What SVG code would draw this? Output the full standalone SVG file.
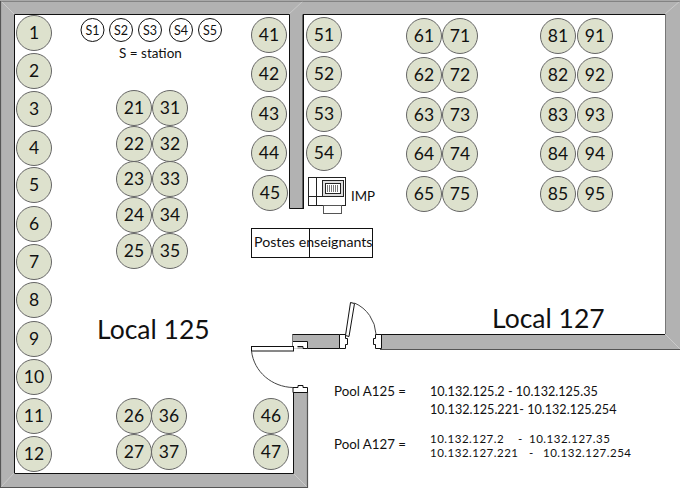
<svg xmlns="http://www.w3.org/2000/svg" width="680" height="488" viewBox="0 0 680 488">
<style>
.w{fill:#b2b2b2;stroke:none}
.e{fill:none;stroke:#111;stroke-width:1}
.o{fill:none;stroke:#555;stroke-width:1.200}
.j{fill:#fff;stroke:#111;stroke-width:1}
.t{fill:none;stroke:#444;stroke-width:1}
.n circle{fill:#dde1cd;stroke:#666;stroke-width:1}
.n text{font-family:Lato,"Liberation Sans",sans-serif;font-size:17.500px;fill:#111;text-anchor:middle}
.s circle{fill:#fff;stroke:#111;stroke-width:1}
.s text{font-family:Lato,"Liberation Sans",sans-serif;font-size:12.500px;fill:#111;text-anchor:middle}
.l{font-family:Lato,"Liberation Sans",sans-serif;fill:#111}
.f{font-size:12.600px}
.p{font-size:11.500px;letter-spacing:.5px}
</style>
<g id="walls">
<path class="w" d="M1 1 H680 V349 H381 V334 H665 V14 H303 V209 H289 V14 H14 V473 H293 V392 H307 V487 H1 Z"/>
<path class="w" d="M292 334 H340 V349 H292 Z"/>
<path d="M1 1 L14 14 M1 487 L14 473 M665 14 L680 1 M665 334 L680 349 M293 473 L307 487 M289 14 L303 1" stroke="#c9c9c9" fill="none"/>
<path class="o" d="M0.500 488 V1 H680 M0.500 487.500 H307.500 V392 M380 349.500 H680"/>
<path class="e" d="M14.500 473 V14.500 H289.500 V208.500 H303 V14.500 H665 M303.500 14 V209 M14.500 473.500 H293.500 V392 M381 334.500 H665"/>
<path d="M665.500 14 V334" stroke="#777" fill="none"/>
<path class="e" d="M292.500 334.500 H339.500 V348.500 H307.500"/>
<path d="M292.500 335 V349" stroke="#777" fill="none"/>
<path class="j" d="M381.500 334.500 H375.500 V338.500 H373.500 V344.500 H375.500 V348.500 H381.500 Z"/>
<path class="j" d="M339.500 334.500 H345.500 V338.500 H347.500 V344.500 H345.500 V348.500 H339.500 Z"/>
<path d="M293 341.500 H307.500 V348.500 H302.500 V346.500 H297.500 V348.500 H293 Z" fill="#fff"/>
<path class="e" d="M293 341.500 H307.500 V348.500 H303 V346.500 H297.500 M293 392.500 H307.500 V387.500 H303 V385.500 H298 V387.500 H293 V392.500"/>
<rect class="j" x="251.500" y="346.500" width="42" height="4.500"/>
<path class="j" d="M345.500 335.500 L350.500 302.500 L354.500 303.500 L349 336.500 Z"/>
<path class="t" d="M354.500 303 A36 36 0 0 1 376 334 M251.500 351 C254 372 272 387 293 387.500"/>
</g>
<g id="connectors"></g>
<g id="station-nodes" class="s">
<g id="S1"><circle cx="92.500" cy="30" r="11.500"/><text x="92.500" y="34.500">S1</text></g>
<g id="S2"><circle cx="121" cy="30" r="11.500"/><text x="121" y="34.500">S2</text></g>
<g id="S3"><circle cx="150" cy="30" r="11.500"/><text x="150" y="34.500">S3</text></g>
<g id="S4"><circle cx="181" cy="30" r="11.500"/><text x="181" y="34.500">S4</text></g>
<g id="S5"><circle cx="210" cy="30" r="11.500"/><text x="210" y="34.500">S5</text></g>
</g>
<g id="seats" class="n">
<g id="n1"><circle cx="34" cy="33" r="17.500"/><text x="34" y="39">1</text></g>
<g id="n2"><circle cx="34" cy="71" r="17.500"/><text x="34" y="77">2</text></g>
<g id="n3"><circle cx="34" cy="109" r="17.500"/><text x="34" y="115">3</text></g>
<g id="n4"><circle cx="34" cy="148" r="17.500"/><text x="34" y="154">4</text></g>
<g id="n5"><circle cx="34" cy="185" r="17.500"/><text x="34" y="191">5</text></g>
<g id="n6"><circle cx="34" cy="224" r="17.500"/><text x="34" y="230">6</text></g>
<g id="n7"><circle cx="34" cy="262" r="17.500"/><text x="34" y="268">7</text></g>
<g id="n8"><circle cx="34" cy="300" r="17.500"/><text x="34" y="306">8</text></g>
<g id="n9"><circle cx="34" cy="339" r="17.500"/><text x="34" y="345">9</text></g>
<g id="n10"><circle cx="34" cy="377" r="17.500"/><text x="34" y="383">10</text></g>
<g id="n11"><circle cx="34" cy="416" r="17.500"/><text x="34" y="422">11</text></g>
<g id="n12"><circle cx="34" cy="454" r="17.500"/><text x="34" y="460">12</text></g>
<g id="n21"><circle cx="134" cy="108" r="17.500"/><text x="134" y="114">21</text></g>
<g id="n22"><circle cx="134" cy="144" r="17.500"/><text x="134" y="150">22</text></g>
<g id="n23"><circle cx="134" cy="179" r="17.500"/><text x="134" y="185">23</text></g>
<g id="n24"><circle cx="134" cy="215" r="17.500"/><text x="134" y="221">24</text></g>
<g id="n25"><circle cx="134" cy="251" r="17.500"/><text x="134" y="257">25</text></g>
<g id="n31"><circle cx="170" cy="108" r="17.500"/><text x="170" y="114">31</text></g>
<g id="n32"><circle cx="170" cy="144" r="17.500"/><text x="170" y="150">32</text></g>
<g id="n33"><circle cx="170" cy="179" r="17.500"/><text x="170" y="185">33</text></g>
<g id="n34"><circle cx="170" cy="215" r="17.500"/><text x="170" y="221">34</text></g>
<g id="n35"><circle cx="170" cy="251" r="17.500"/><text x="170" y="257">35</text></g>
<g id="n26"><circle cx="134" cy="416" r="17.500"/><text x="134" y="422">26</text></g>
<g id="n27"><circle cx="134" cy="452" r="17.500"/><text x="134" y="458">27</text></g>
<g id="n36"><circle cx="169" cy="416" r="17.500"/><text x="169" y="422">36</text></g>
<g id="n37"><circle cx="169" cy="452" r="17.500"/><text x="169" y="458">37</text></g>
<g id="n41"><circle cx="269" cy="35" r="17.500"/><text x="269" y="41">41</text></g>
<g id="n42"><circle cx="269" cy="74" r="17.500"/><text x="269" y="80">42</text></g>
<g id="n43"><circle cx="269" cy="114" r="17.500"/><text x="269" y="120">43</text></g>
<g id="n44"><circle cx="269" cy="153" r="17.500"/><text x="269" y="159">44</text></g>
<g id="n45"><circle cx="270" cy="193" r="17.500"/><text x="270" y="199">45</text></g>
<g id="n46"><circle cx="271" cy="416" r="17.500"/><text x="271" y="422">46</text></g>
<g id="n47"><circle cx="271" cy="452" r="17.500"/><text x="271" y="458">47</text></g>
<g id="n51"><circle cx="324" cy="35" r="17.500"/><text x="324" y="41">51</text></g>
<g id="n52"><circle cx="324" cy="74" r="17.500"/><text x="324" y="80">52</text></g>
<g id="n53"><circle cx="324" cy="114" r="17.500"/><text x="324" y="120">53</text></g>
<g id="n54"><circle cx="324" cy="153" r="17.500"/><text x="324" y="159">54</text></g>
<g id="n61"><circle cx="424" cy="36" r="17.500"/><text x="424" y="42">61</text></g>
<g id="n62"><circle cx="424" cy="75" r="17.500"/><text x="424" y="81">62</text></g>
<g id="n63"><circle cx="424" cy="115" r="17.500"/><text x="424" y="121">63</text></g>
<g id="n64"><circle cx="424" cy="154" r="17.500"/><text x="424" y="160">64</text></g>
<g id="n65"><circle cx="424" cy="194" r="17.500"/><text x="424" y="200">65</text></g>
<g id="n71"><circle cx="460" cy="36" r="17.500"/><text x="460" y="42">71</text></g>
<g id="n72"><circle cx="460" cy="75" r="17.500"/><text x="460" y="81">72</text></g>
<g id="n73"><circle cx="460" cy="115" r="17.500"/><text x="460" y="121">73</text></g>
<g id="n74"><circle cx="460" cy="154" r="17.500"/><text x="460" y="160">74</text></g>
<g id="n75"><circle cx="460" cy="194" r="17.500"/><text x="460" y="200">75</text></g>
<g id="n81"><circle cx="558" cy="36" r="17.500"/><text x="558" y="42">81</text></g>
<g id="n82"><circle cx="558" cy="75" r="17.500"/><text x="558" y="81">82</text></g>
<g id="n83"><circle cx="558" cy="115" r="17.500"/><text x="558" y="121">83</text></g>
<g id="n84"><circle cx="558" cy="154" r="17.500"/><text x="558" y="160">84</text></g>
<g id="n85"><circle cx="558" cy="194" r="17.500"/><text x="558" y="200">85</text></g>
<g id="n91"><circle cx="595" cy="36" r="17.500"/><text x="595" y="42">91</text></g>
<g id="n92"><circle cx="595" cy="75" r="17.500"/><text x="595" y="81">92</text></g>
<g id="n93"><circle cx="595" cy="115" r="17.500"/><text x="595" y="121">93</text></g>
<g id="n94"><circle cx="595" cy="154" r="17.500"/><text x="595" y="160">94</text></g>
<g id="n95"><circle cx="595" cy="194" r="17.500"/><text x="595" y="200">95</text></g>
</g>
<g id="imp">
<rect x="308.500" y="177.500" width="37" height="28" fill="#fff" stroke="#222"/>
<path d="M316.500 177.500 V205.500 M308.500 196.500 H322.500" stroke="#222" fill="none"/>
<rect x="322.500" y="180.500" width="21" height="16" fill="#ddd" stroke="#222"/>
<rect x="325.500" y="183.500" width="15" height="10" fill="#fff" stroke="#222"/>
<path d="M327.500 185 V192 M329.500 185 V192 M331.500 185 V192 M333.500 185 V192 M335.500 185 V192 M337.500 185 V192" stroke="#777"/>
<rect x="323.500" y="205.500" width="18" height="8" fill="#fff" stroke="#555"/>
<text class="l" font-size="13.300px" x="351" y="201">IMP</text>
</g>
<g id="postes">
<rect x="251.500" y="228.500" width="58" height="29" fill="#fff" stroke="#111"/>
<rect x="309.500" y="228.500" width="63" height="29" fill="#fff" stroke="#111"/>
<text class="l" x="254" y="247" font-size="14.200px">Postes enseignants</text>
</g>
<g id="labels">
<text class="l" font-size="13.500px" x="119" y="58">S = station</text>
<text class="l" x="97" y="339" font-size="26.500px">Local 125</text>
<text class="l" x="492" y="328" font-size="26.500px">Local 127</text>
<text class="l" font-size="13.300px" x="334" y="396">Pool A125 =</text>
<text class="l" font-size="13.300px" x="334" y="449">Pool A127 =</text>
<text class="l f" x="430" y="396">10.132.125.2 - 10.132.125.35</text>
<text class="l f" x="430" y="414">10.132.125.221- 10.132.125.254</text>
<text class="l p" y="443"><tspan x="430">10.132.127.2</tspan><tspan x="518">-</tspan><tspan x="529">10.132.127.35</tspan></text>
<text class="l p" y="457"><tspan x="430">10.132.127.221</tspan><tspan x="529">-</tspan><tspan x="543">10.132.127.254</tspan></text>
</g>
</svg>
